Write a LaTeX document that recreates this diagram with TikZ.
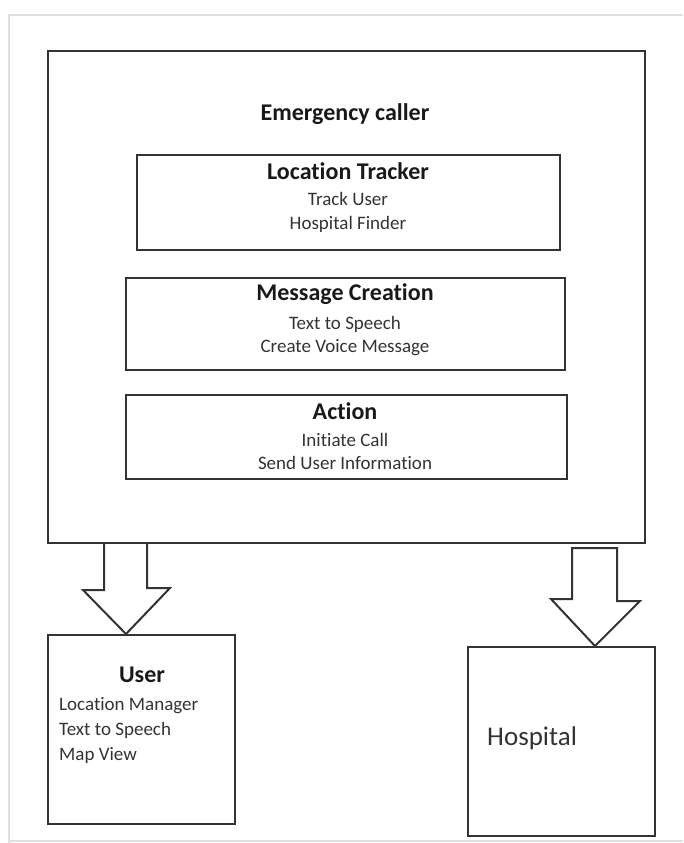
\documentclass[tikz,border=0pt]{standalone}
\usepackage{fontspec}
\setmainfont{Carlito}[Ligatures={NoCommon}]
\usetikzlibrary{calc}

\begin{document}
\begin{tikzpicture}[
  ecframe/.style  = {draw=black!12, line width=1.5pt},
  ecbox/.style    = {draw=black!80, line width=2pt, inner sep=0pt},
  ectitle/.style  = {font=\fontsize{24}{28}\selectfont\bfseries, text=black!90, inner sep=0pt, anchor=mid},
  ecitem/.style   = {font=\fontsize{19}{23}\selectfont, text=black!80, inner sep=0pt, anchor=mid},
  ecarrow/.style  = {draw=black!80, line width=2pt, line join=miter},
  x=1pt, y=-1pt,
]
  \useasboundingbox (0,0) rectangle (683,843);
  \draw[ecframe] (9,843) -- (9,15) -- (683,15);
  \draw[ecframe] (9,841) -- (683,841);

  % main block and its modules
  \node[ecbox, minimum width=597pt, minimum height=492pt] (main) at (346.5,297) {};
  \node[ectitle] (maintitle) at (345,118) {Emergency caller};

  \node[ecbox, minimum width=423pt, minimum height=95pt] (loc) at (348.5,202.5) {};
  \node[ectitle] (loctitle) at (348,177) {Location Tracker};
  \node[ecitem] (loc1) at (348,203) {Track User};
  \node[ecitem] (loc2) at (348,227) {Hospital Finder};

  \node[ecbox, minimum width=439pt, minimum height=92pt] (msg) at (345.5,324) {};
  \node[ectitle] (msgtitle) at (345,298) {Message Creation};
  \node[ecitem] (msg1) at (345,327) {Text to Speech};
  \node[ecitem] (msg2) at (345,350) {Create Voice Message};

  \node[ecbox, minimum width=441pt, minimum height=84pt] (act) at (346.5,437) {};
  \node[ectitle] (acttitle) at (345,417) {Action};
  \node[ecitem] (act1) at (345,444) {Initiate Call};
  \node[ecitem] (act2) at (345,467) {Send User Information};

  % receivers
  \node[ecbox, minimum width=187pt, minimum height=189pt] (user) at (141.5,729.5) {};
  \node[ectitle] (usertitle) at (142,680) {User};
  \node[ecitem, anchor=mid west] (user1) at (59,708) {Location Manager};
  \node[ecitem, anchor=mid west] (user2) at (59,733) {Text to Speech};
  \node[ecitem, anchor=mid west] (user3) at (59,758) {Map View};

  \node[ecbox, minimum width=187pt, minimum height=189pt] (hosp) at (561.5,741.5) {};
  \node[ecitem, font=\fontsize{27}{32}\selectfont, anchor=mid west] (hosptitle) at (487,743) {Hospital};

  % block arrows
  \draw[ecarrow] ($(main.south west)+(57,0)$) -- ++(0,46) -- ++(-21,0)
    -- ($(user.north west)+(79,0)$) -- ++(44,-46) -- ++(-23,0) -- ++(0,-46);
  \draw[ecarrow] ($(main.south west)+(525,4)$) -- ++(45,0) -- ++(0,53) -- ++(23,0)
    -- ($(hosp.north west)+(128,0)$) -- ++(-44,-47) -- ++(21,0) -- cycle;
\end{tikzpicture}
\end{document}
